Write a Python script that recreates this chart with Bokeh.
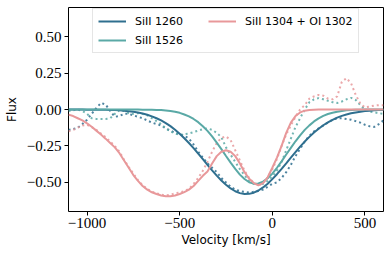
from bokeh.plotting import figure
from bokeh.models import Legend, LegendItem, FixedTicker, CustomJSTickFormatter, Range1d
from bokeh.embed import file_html
from bokeh.resources import INLINE

velocity = list(range(-1100, 601, 25))

model_1260 = [0.000, 0.000, 0.000, 0.000, -0.001, -0.001, -0.001, -0.002, -0.002, -0.003, -0.004, -0.006,
              -0.009, -0.012, -0.016, -0.021, -0.028, -0.036, -0.047, -0.060, -0.075, -0.093, -0.114, -0.139,
              -0.166, -0.197, -0.230, -0.265, -0.303, -0.341, -0.380, -0.418, -0.454, -0.487, -0.517, -0.542,
              -0.561, -0.574, -0.580, -0.579, -0.571, -0.556, -0.535, -0.509, -0.478, -0.444, -0.407, -0.369,
              -0.330, -0.292, -0.255, -0.220, -0.188, -0.158, -0.132, -0.108, -0.088, -0.071, -0.056, -0.044,
              -0.034, -0.026, -0.020, -0.015, -0.011, -0.008, -0.006, -0.004, -0.003]

model_1526 = [0.000, 0.000, 0.000, 0.000, 0.000, 0.000, 0.000, 0.000, 0.000, 0.000, 0.000, 0.000,
              0.000, 0.000, 0.000, 0.000, -0.001, -0.001, -0.002, -0.003, -0.004, -0.007, -0.011, -0.016,
              -0.023, -0.034, -0.047, -0.065, -0.087, -0.115, -0.147, -0.185, -0.227, -0.272, -0.319, -0.365,
              -0.408, -0.447, -0.477, -0.499, -0.509, -0.508, -0.495, -0.472, -0.440, -0.400, -0.356, -0.309,
              -0.263, -0.218, -0.177, -0.140, -0.109, -0.082, -0.061, -0.044, -0.031, -0.022, -0.015, -0.010,
              -0.006, -0.004, -0.002, -0.001, 0.000, 0.000, 0.000, 0.000, 0.000]

model_1304 = [-0.035, -0.045, -0.060, -0.075, -0.095, -0.118, -0.145, -0.172, -0.200, -0.230, -0.260, -0.300,
              -0.350, -0.400, -0.450, -0.490, -0.525, -0.550, -0.568, -0.580, -0.590, -0.595, -0.595, -0.590,
              -0.580, -0.567, -0.550, -0.525, -0.490, -0.455, -0.425, -0.370, -0.320, -0.290, -0.280, -0.290,
              -0.320, -0.370, -0.430, -0.475, -0.505, -0.520, -0.505, -0.465, -0.400, -0.330, -0.250, -0.160,
              -0.090, -0.045, -0.020, -0.008, -0.003, -0.001, 0.000, 0.000, 0.000, 0.000, 0.000, 0.000,
              0.000, 0.000, 0.000, 0.000, 0.000, 0.000, 0.000, 0.000, 0.000]

data_1260 = [-0.140, -0.135, -0.125, -0.100, -0.070, -0.030, 0.010, 0.045, 0.035, -0.010, -0.050, -0.045,
             -0.030, -0.030, -0.040, -0.050, -0.060, -0.075, -0.090, -0.100, -0.110, -0.130, -0.145, -0.160,
             -0.170, -0.180, -0.200, -0.240, -0.290, -0.330, -0.370, -0.400, -0.430, -0.470, -0.500, -0.530,
             -0.550, -0.560, -0.565, -0.570, -0.565, -0.560, -0.550, -0.530, -0.510, -0.500, -0.470, -0.430,
             -0.380, -0.320, -0.270, -0.220, -0.180, -0.150, -0.130, -0.110, -0.090, -0.070, -0.060, -0.060,
             -0.065, -0.070, -0.080, -0.090, -0.105, -0.115, -0.120, -0.100, -0.075]

data_1526 = [-0.010, -0.005, 0.000, -0.010, -0.030, -0.060, -0.065, -0.065, -0.065, -0.060, -0.030, -0.005,
             -0.010, -0.025, -0.030, -0.025, -0.030, -0.040, -0.060, -0.080, -0.100, -0.130, -0.150, -0.165,
             -0.175, -0.170, -0.165, -0.155, -0.145, -0.135, -0.130, -0.140, -0.160, -0.190, -0.260, -0.310,
             -0.360, -0.410, -0.450, -0.490, -0.510, -0.515, -0.510, -0.490, -0.460, -0.420, -0.360, -0.280,
             -0.200, -0.120, -0.060, 0.000, 0.050, 0.070, 0.078, 0.070, 0.060, 0.050, 0.045, 0.055,
             0.070, 0.080, 0.065, 0.030, 0.000, -0.015, -0.020, -0.025, -0.030]

data_1304 = [-0.150, -0.140, -0.125, -0.110, -0.105, -0.120, -0.140, -0.165, -0.190, -0.220, -0.250, -0.290,
             -0.345, -0.395, -0.440, -0.485, -0.520, -0.545, -0.565, -0.575, -0.585, -0.590, -0.585, -0.575,
             -0.570, -0.560, -0.545, -0.510, -0.470, -0.420, -0.360, -0.290, -0.230, -0.195, -0.185, -0.210,
             -0.280, -0.350, -0.420, -0.470, -0.505, -0.520, -0.505, -0.465, -0.410, -0.340, -0.250, -0.170,
             -0.110, -0.050, 0.000, 0.030, 0.075, 0.090, 0.100, 0.095, 0.075, 0.070, 0.090, 0.190,
             0.215, 0.180, 0.100, 0.040, 0.015, 0.020, 0.027, 0.030, 0.030]

labels = ["SiII 1260", "SiII 1526", "SiII 1304 + OI 1302"]
x_ticks = [-1000, -500, 0, 500]
y_ticks = [-0.5, -0.25, 0.0, 0.25, 0.5]

c_dark = "#2f6f8f"
c_teal = "#5aa9a6"
c_pink = "#e8989a"

p = figure(frame_width=315, frame_height=204, output_backend="svg", toolbar_location=None,
           x_range=Range1d(-1100, 600), y_range=Range1d(-0.7, 0.7),
           min_border_left=68, min_border_right=7, min_border_top=7, min_border_bottom=46)
p.background_fill_color = "white"
p.border_fill_color = "white"
p.outline_line_color = "black"
p.outline_line_width = 1
p.grid.visible = False

# data (dotted)
d1 = p.line(velocity, data_1260, line_color=c_dark, line_width=2, line_dash="2 3", line_alpha=0.85)
d2 = p.line(velocity, data_1526, line_color=c_teal, line_width=2, line_dash="2 3", line_alpha=0.85)
d3 = p.line(velocity, data_1304, line_color=c_pink, line_width=2, line_dash="2 3", line_alpha=0.85)
# models (solid)
m1 = p.line(velocity, model_1260, line_color=c_dark, line_width=2)
m2 = p.line(velocity, model_1526, line_color=c_teal, line_width=2)
m3 = p.line(velocity, model_1304, line_color=c_pink, line_width=2)

for ax in (p.xaxis[0], p.yaxis[0]):
    ax.major_tick_in = 0
    ax.major_tick_out = 4
    ax.major_tick_line_color = "black"
    ax.minor_tick_line_color = None
    ax.axis_line_color = None
    ax.major_label_text_font = "Liberation Serif"
    ax.major_label_text_font_size = "15px"
    ax.major_label_text_color = "black"
    ax.axis_label_text_font = "DejaVu Sans"
    ax.axis_label_text_font_size = "12px"
    ax.axis_label_text_font_style = "normal"
    ax.axis_label_text_color = "black"

p.xaxis.ticker = FixedTicker(ticks=x_ticks)
p.yaxis.ticker = FixedTicker(ticks=y_ticks)
p.xaxis.formatter = CustomJSTickFormatter(code="return tick.toFixed(0).replace('-', '\u2212');")
p.yaxis.formatter = CustomJSTickFormatter(code="var s = Math.abs(tick) < 1e-9 ? '0.00' : tick.toFixed(2); return s.replace('-', '\u2212');")
p.xaxis.axis_label = "Velocity [km/s]"
p.yaxis.axis_label = "Flux"
p.xaxis.major_label_standoff = 2
p.yaxis.major_label_standoff = 3
p.xaxis.axis_label_standoff = 2
p.yaxis.axis_label_standoff = 5

legend = Legend(items=[LegendItem(label=labels[0], renderers=[m1]),
                       LegendItem(label=labels[1], renderers=[m2]),
                       LegendItem(label=labels[2], renderers=[m3])],
                ncols=2, location=(24, 158),
                padding=5, spacing=5, glyph_width=28, glyph_height=14, label_height=14,
                label_width=68, label_standoff=9, margin=0,
                label_text_font="DejaVu Sans", label_text_font_size="11px",
                label_text_color="black",
                border_line_color="#cccccc", border_line_width=1,
                background_fill_color="white", background_fill_alpha=0.8)
p.add_layout(legend)

open("out.html", "w").write(file_html(p, INLINE))
